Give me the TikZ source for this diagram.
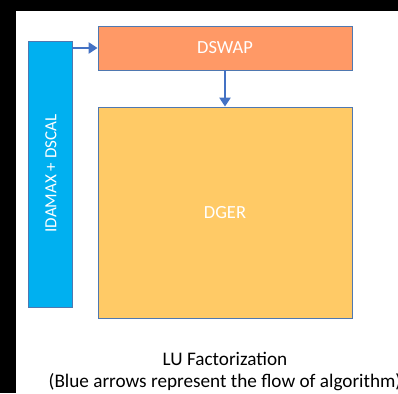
\documentclass[tikz,border=0pt]{standalone}
\usepackage{fontspec}
\setmainfont{Carlito}
\usetikzlibrary{arrows.meta}
\definecolor{barblue}{HTML}{00B0F0}
\definecolor{swaporange}{HTML}{FF9966}
\definecolor{gerYellow}{HTML}{FFCA66}
\definecolor{edgeblue}{HTML}{4F78B0}
\definecolor{flowblue}{HTML}{4472C4}
\tikzset{
  x=1pt, y=-1pt,
  block/.style={draw=edgeblue, line width=0.8pt, inner sep=0pt, text=white,
    font=\fontsize{18.5}{22}\selectfont},
  flow/.style={draw=flowblue, line width=2.6pt, -{Triangle[length=9pt,width=11pt]}},
  caption/.style={font=\fontsize{19.2}{23}\selectfont, anchor=base, inner sep=0pt}
}
\begin{document}
\begin{tikzpicture}
\useasboundingbox (0,0) rectangle (398,393);
\fill[black] (0,0) rectangle (398,393);
\fill[white] (16,11) rectangle (398,393);
\node[block, fill=barblue, minimum width=44pt, minimum height=266pt] (bar) at (50,174) {};
\node[rotate=90, text=white, font=\fontsize{17}{20}\selectfont] (bartext) at (51,173.5) {IDAMAX + DSCAL};
\node[block, fill=swaporange, minimum width=254pt, minimum height=44pt] (swap) at (225,48) {DSWAP};
\node[block, fill=gerYellow, minimum width=254pt, minimum height=211pt] (dger) at (225,212.5) {DGER};
\draw[flow] (swap.west -| bar.east) -- (swap.west);
\draw[flow] (swap.south) -- (dger.north);
\node[caption] (cap1) at (225,365) {LU Factorization};
\node[caption] (cap2) at (225,387) {(Blue arrows represent the flow of algorithm)};
\end{tikzpicture}
\end{document}
